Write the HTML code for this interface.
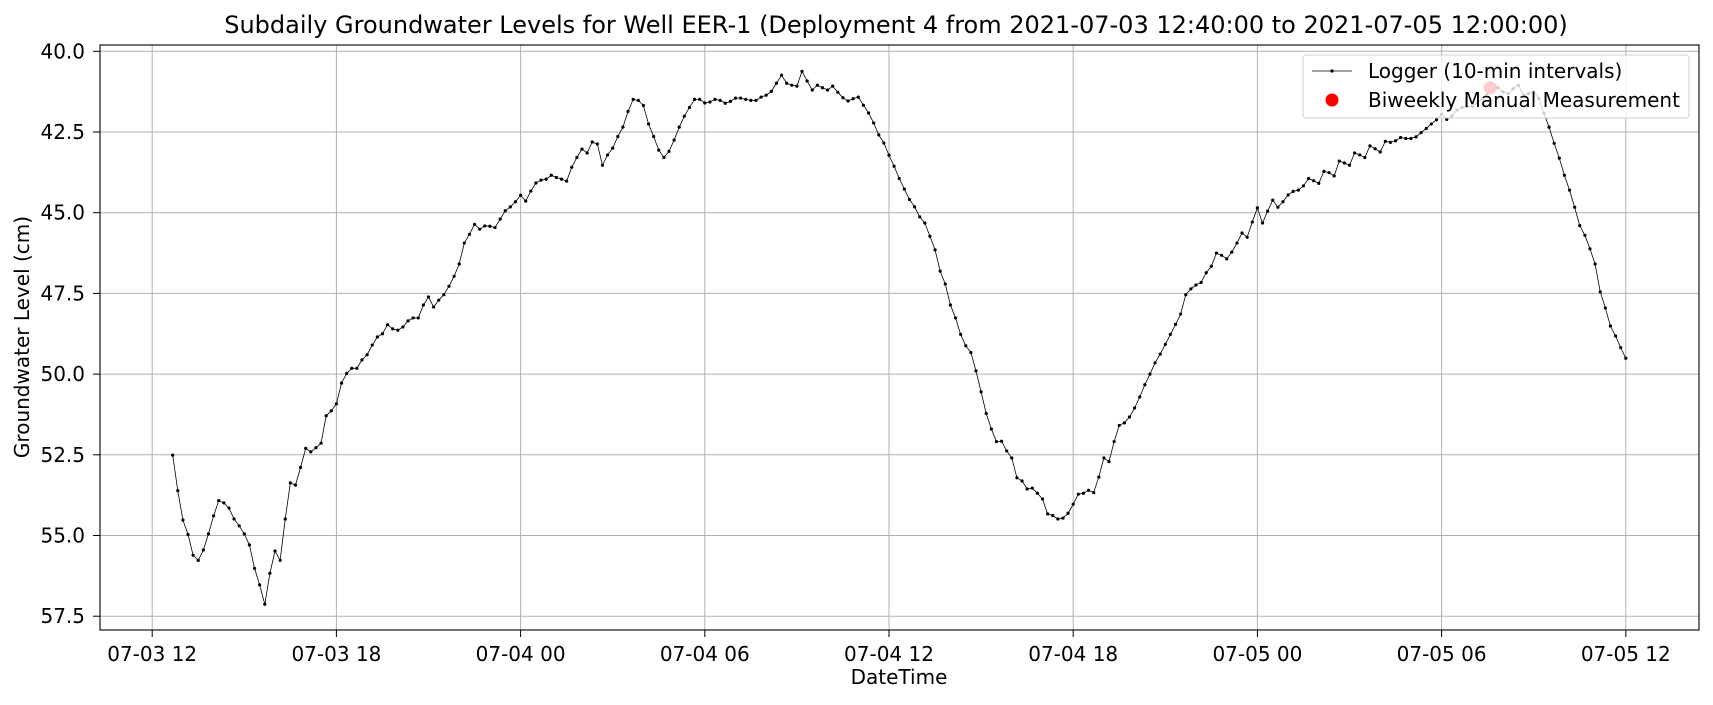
<!DOCTYPE html>
<html><head><meta charset="utf-8"><style>
html,body{margin:0;padding:0;background:#fff;}
svg{display:block;font-family:"DejaVu Sans","Liberation Sans",sans-serif;}
</style></head><body>
<svg id="chart" width="1713" height="705" viewBox="0 0 1713 705" xmlns="http://www.w3.org/2000/svg">
<text x="896" y="33" text-anchor="middle" font-size="24" fill="#000">Subdaily Groundwater Levels for Well EER-1 (Deployment 4 from 2021-07-03 12:40:00 to 2021-07-05 12:00:00)</text>
<g id="grid"></g>
<g id="series"></g>
<g id="axes"></g>
<text x="899" y="684" text-anchor="middle" font-size="20" fill="#000">DateTime</text>
<text transform="translate(29,337) rotate(-90)" text-anchor="middle" font-size="20" fill="#000">Groundwater Level (cm)</text>
<g>
<rect x="1303" y="55" width="386" height="63" rx="3" fill="#fff" fill-opacity="0.8" stroke="#ccc" stroke-width="1"/>
<line x1="1312" y1="71" x2="1352" y2="71" stroke="#000" stroke-width="0.8"/>
<circle cx="1332" cy="71" r="1.6" fill="#000"/>
<text x="1368" y="78" font-size="20" fill="#000">Logger (10-min intervals)</text>
<circle cx="1332" cy="100" r="6.5" fill="#ff0000"/>
<text x="1368" y="107" font-size="20" fill="#000">Biweekly Manual Measurement</text>
</g>
</svg>
<script>
const startMinute = 40; // minutes after 2021-07-03 12:00
const intervalMinutes = 10;
const loggerValues = [52.51,53.61,54.52,54.97,55.61,55.77,55.45,54.95,54.39,53.92,53.99,54.15,54.49,54.70,54.95,55.29,56.02,56.53,57.13,56.17,55.48,55.77,54.49,53.37,53.44,52.89,52.30,52.41,52.28,52.14,51.29,51.14,50.92,50.28,49.98,49.82,49.82,49.56,49.40,49.10,48.85,48.75,48.47,48.60,48.64,48.54,48.35,48.26,48.26,47.86,47.61,47.92,47.71,47.54,47.28,46.97,46.59,45.94,45.67,45.36,45.51,45.41,45.42,45.46,45.20,44.94,44.82,44.66,44.46,44.64,44.33,44.08,43.99,43.96,43.84,43.91,43.96,44.02,43.59,43.29,43.03,43.15,42.81,42.87,43.53,43.21,43.00,42.64,42.35,41.86,41.49,41.52,41.68,42.25,42.64,43.06,43.29,43.10,42.75,42.35,42.01,41.74,41.49,41.49,41.60,41.57,41.49,41.52,41.61,41.55,41.45,41.45,41.49,41.52,41.52,41.42,41.36,41.24,40.99,40.74,40.99,41.05,41.08,40.62,40.92,41.20,41.05,41.13,41.20,41.08,41.27,41.44,41.54,41.47,41.42,41.67,41.91,42.22,42.59,42.84,43.22,43.56,43.94,44.27,44.59,44.82,45.13,45.32,45.73,46.15,46.81,47.21,47.86,48.26,48.77,49.12,49.33,49.90,50.55,51.22,51.70,52.09,52.08,52.38,52.60,53.21,53.31,53.56,53.53,53.69,53.87,54.33,54.38,54.49,54.46,54.31,54.03,53.72,53.69,53.60,53.67,53.19,52.60,52.71,52.09,51.59,51.51,51.33,51.05,50.71,50.33,50.00,49.65,49.38,49.08,48.77,48.46,48.14,47.54,47.36,47.24,47.16,46.86,46.66,46.25,46.32,46.43,46.22,45.94,45.63,45.76,45.29,44.85,45.32,44.95,44.61,44.83,44.66,44.45,44.34,44.30,44.17,43.94,44.01,44.09,43.72,43.76,43.86,43.40,43.46,43.53,43.15,43.21,43.29,42.93,43.02,43.12,42.79,42.82,42.77,42.67,42.70,42.70,42.65,42.52,42.39,42.25,42.12,41.95,42.11,42.00,41.82,41.74,41.71,41.70,41.60,41.46,41.31,41.10,41.12,41.26,41.31,41.16,41.05,41.36,41.31,41.26,41.46,41.92,42.35,42.85,43.31,43.84,44.30,44.83,45.40,45.70,46.12,46.59,47.45,47.95,48.51,48.82,49.18,49.51];
const manualMinutes = [2615];
const manualValues = [41.13];
const yTicks = [40.0,42.5,45.0,47.5,50.0,52.5,55.0,57.5];
const xTickMinutes = [0,360,720,1080,1440,1800,2160,2520,2880];
const xTickLabels = ["07-03 12","07-03 18","07-04 00","07-04 06","07-04 12","07-04 18","07-05 00","07-05 06","07-05 12"];

const NS = "http://www.w3.org/2000/svg";
const L = 100, R = 1699, T = 45, B = 630;
function xScale(m){ return 152.2 + m * (184.2/360); }
function yScale(v){ return 51.3 + (v - 40) * 32.28; }
function mk(tag, attrs, parent){
  const e = document.createElementNS(NS, tag);
  for (const k in attrs) e.setAttribute(k, attrs[k]);
  parent.appendChild(e);
  return e;
}
const grid = document.getElementById('grid');
const axes = document.getElementById('axes');
const series = document.getElementById('series');

yTicks.forEach(v => {
  const y = yScale(v);
  const g = mk('line', {x1:L, x2:R, y1:y, y2:y, stroke:'#b0b0b0', 'stroke-width':1}, grid);
  
  
  const t = mk('line', {x1:L-7, x2:L, y1:y, y2:y, stroke:'#000', 'stroke-width':1}, axes);
  
  
  const lb = mk('text', {x:L-15, y:y+7, 'text-anchor':'end', 'font-size':20, fill:'#000'}, axes);
  lb.textContent = v.toFixed(1);
  
  
});
xTickMinutes.forEach((m, i) => {
  const x = xScale(m);
  const g = mk('line', {x1:x, x2:x, y1:T, y2:B, stroke:'#b0b0b0', 'stroke-width':1}, grid);
  
  
  const t = mk('line', {x1:x, x2:x, y1:B, y2:B+7, stroke:'#000', 'stroke-width':1}, axes);
  
  
  const lb = mk('text', {x:x, y:B+31, 'text-anchor':'middle', 'font-size':20, fill:'#000'}, axes);
  lb.textContent = xTickLabels[i];
  
  
});
const frame = mk('rect', {x:L, y:T, width:R-L, height:B-T, fill:'none', stroke:'#000', 'stroke-width':1.1}, axes);



const pts = loggerValues.map((v, i) => [xScale(startMinute + i*intervalMinutes), yScale(v)]);
const line = mk('polyline', {points: pts.map(p => p[0].toFixed(2)+','+p[1].toFixed(2)).join(' '), fill:'none', stroke:'#000', 'stroke-width':0.8}, series);


pts.forEach(p => {
  const c = mk('circle', {cx:p[0], cy:p[1], r:1.6, fill:'#000'}, series);
  
  
});
manualMinutes.forEach((m, i) => {
  const c = mk('circle', {cx:xScale(m), cy:yScale(manualValues[i]), r:6.5, fill:'#ff0000'}, series);
  
  
});
</script>
</body></html>
